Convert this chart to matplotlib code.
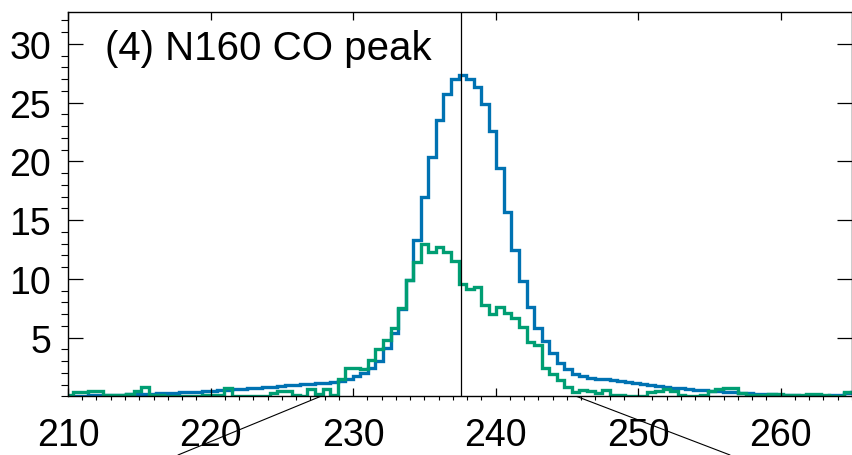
import matplotlib
matplotlib.use("Agg")
import matplotlib.pyplot as plt
from matplotlib.patches import ConnectionPatch
import numpy as np

plt.rcParams['font.family'] = ['Liberation Sans', 'DejaVu Sans']

# channel grid (km/s)
v_start = 209.84
dv = 0.53

blue_spec = [0.05, 0.06, 0.08, 0.1, 0.1, 0.12, 0.14, 0.16, 0.18, 0.2,
             0.22, 0.25, 0.27, 0.3, 0.32, 0.35, 0.38, 0.42, 0.45, 0.5,
             0.53, 0.58, 0.62, 0.66, 0.7, 0.74, 0.78, 0.85, 0.9, 0.95,
             1.0, 1.05, 1.1, 1.12, 1.15, 1.2, 1.3, 1.45, 1.75, 2.0,
             2.4, 3.0, 4.1, 5.4, 7.4, 9.9, 13.3, 17.0, 20.4, 23.5,
             25.7, 27.0, 27.3, 27.0, 26.3, 24.9, 22.6, 19.4, 15.7, 12.5,
             9.8, 7.6, 5.8, 4.7, 3.7, 2.85, 2.3, 1.95, 1.75, 1.6,
             1.5, 1.45, 1.38, 1.3, 1.22, 1.15, 1.05, 0.98, 0.9, 0.83,
             0.75, 0.68, 0.62, 0.57, 0.52, 0.48, 0.45, 0.42, 0.4, 0.33,
             0.28, 0.25, 0.25, 0.2, 0.15, 0.1, 0.1, 0.08, 0.05, 0.05,
             0.08, 0.1, 0.15, 0.3, 0.35]

green_spec = [0.15, 0.35, 0.35, 0.5, 0.5, 0.15, 0.15, 0.15, 0.2, 0.45,
              0.8, 0.15, 0.15, 0.05, 0.0, 0.0, 0.0, 0.05, 0.1, 0.1,
              0.1, 0.75, 0.05, 0.05, 0.0, 0.05, 0.05, 0.3, 0.45, 0.45,
              0.1, 0.05, 0.6, 0.2, 0.6, 0.15, 1.45, 2.4, 2.45, 2.35,
              3.1, 4.0, 4.8, 5.8, 7.5, 9.9, 11.4, 13.0, 12.3, 12.7,
              12.3, 11.5, 9.6, 9.1, 9.3, 7.8, 7.0, 7.6, 7.1, 6.7,
              5.9, 4.6, 4.4, 2.4, 1.9, 1.4, 0.8, 0.35, 0.55, 0.5,
              0.3, 0.55, 0.1, 0.1, 0.05, 0.0, 0.05, 0.4, 0.5, 0.65,
              0.45, 0.1, 0.05, 0.05, 0.1, 0.5, 0.6, 0.7, 0.7, 0.3,
              0.15, 0.15, 0.1, 0.2, 0.2, 0.1, 0.15, 0.1, 0.2, 0.2,
              0.1, 0.05, 0.05, 0.4, 0.4]

v_peak = 237.6
label = "(4) N160 CO peak"
x_ticks = [210, 220, 230, 240, 250, 260]
y_ticks = [5, 10, 15, 20, 25, 30]
# ends of the zoom lines: (velocity at axis, figure x fraction at bottom)
zoom_left = (227.7, 178 / 853)
zoom_right = (245.7, 730 / 853)

edges = v_start + dv * np.arange(len(blue_spec) + 1)

fig = plt.figure(figsize=(8.53, 4.56), dpi=100)
ax = fig.add_axes([0.0797, 0.1283, 0.9191, 0.8432])

ax.stairs(blue_spec, edges, color='#0072B2', lw=2.4)
ax.stairs(green_spec, edges, color='#009E73', lw=2.4)
ax.axvline(v_peak, color='black', lw=0.9)

ax.text(212.6, 29.6, label, fontsize=29, ha='left', va='center')

ax.set_xlim(210, 265)
ax.set_ylim(0, 32.7)
ax.set_xticks(x_ticks)
ax.set_yticks(y_ticks)
ax.set_xticks(np.arange(210, 266, 1), minor=True)
ax.set_yticks(np.arange(0, 33, 1), minor=True)
ax.tick_params(direction='in', top=True, right=True, labelsize=27)
ax.tick_params(axis='x', which='major', length=5.8, width=0.9, pad=15)
ax.tick_params(axis='x', which='minor', length=3.0, width=0.8)
ax.tick_params(axis='y', which='major', length=10.8, width=0.9, pad=12)
ax.tick_params(axis='y', which='minor', length=5.4, width=0.8)
for s in ax.spines.values():
    s.set_linewidth(1.0)

# lines to the zoomed panel below
for vx, fx in [zoom_left, zoom_right]:
    con = ConnectionPatch(xyA=(vx, 0), coordsA=ax.transData,
                          xyB=(fx, 0), coordsB=fig.transFigure,
                          color='black', lw=0.8)
    fig.add_artist(con)

plt.savefig("out.png", dpi=100)
